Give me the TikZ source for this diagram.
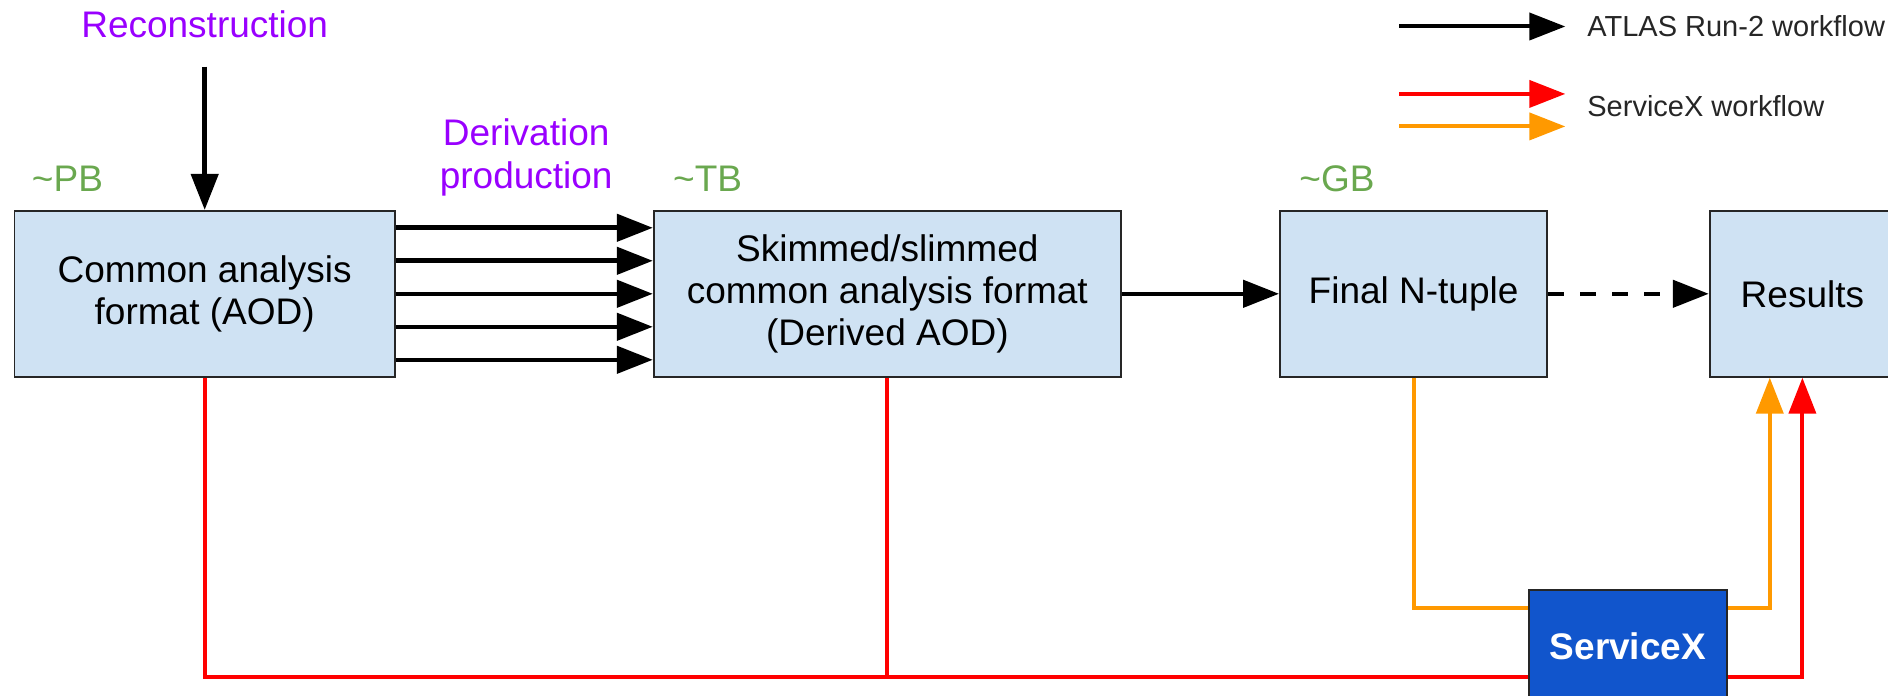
\documentclass[tikz,border=0pt]{standalone}
\usepackage{fontspec}
\setmainfont{Liberation Sans}
\usepackage{tikz}
\usetikzlibrary{arrows.meta,positioning}
\definecolor{boxblue}{HTML}{CFE2F3}
\definecolor{sxblue}{HTML}{1155CC}
\definecolor{steppurple}{HTML}{9900FF}
\definecolor{sizegreen}{HTML}{6AA84F}
\definecolor{sxorange}{HTML}{FF9900}
\tikzset{box/.style={draw=black!85, line width=0.9pt, fill=boxblue, minimum height=83pt,
                     align=center, inner sep=2pt, font=\fontsize{18.5}{21}\selectfont},
flow/.style={line width=2.3pt},
sxflow/.style={line width=2pt},
sizelabel/.style={text=sizegreen, anchor=base west, inner sep=0pt, font=\fontsize{18.5}{21}\selectfont},
steplabel/.style={text=steppurple, align=center, font=\fontsize{18.5}{21.5}\selectfont},
legendtext/.style={anchor=west, inner sep=0pt, text=black!85, font=\fontsize{14.5}{17}\selectfont}
}

\begin{document}
\begin{tikzpicture}[x=0.602pt, y=-0.602pt, >={Triangle[length=18pt,width=13.5pt]}, on grid]
    \clip (0,0) rectangle (1568,578);

    % data formats
    \node[box, minimum width=190.2pt] (aod)     at (170,244)            {Common analysis\\format (AOD)};
    \node[box, minimum width=233.6pt] (daod)    [right=341.3pt of aod]  {Skimmed/slimmed\\common analysis format\\(Derived AOD)};
    \node[box, minimum width=133.6pt] (ntuple)  [right=263.1pt of daod] {Final N-tuple};
    \node[box, minimum width=92.7pt]  (results) [right=194.4pt of ntuple] {Results};
    \node[box, fill=sxblue, text=white, minimum width=99.3pt, minimum height=56.6pt,
          font=\fontsize{18.5}{21}\selectfont\bfseries] (sx) at (1352,537) {ServiceX};

    \node[steplabel] (reco)  at (170,20)  {Reconstruction};
    \node[steplabel] (deriv) at (437,131) {Derivation\\production};
    \node[sizelabel] (pb) at ([xshift=9pt,yshift=9pt]aod.north west)     {\textasciitilde PB};
    \node[sizelabel] (tb) at ([xshift=10pt,yshift=9pt]daod.north west)   {\textasciitilde TB};
    \node[sizelabel] (gb) at ([xshift=10pt,yshift=9pt]ntuple.north west) {\textasciitilde GB};

    % Run-2 workflow
    \draw[flow,->,shorten <=11pt] (reco) -- (aod);
    \foreach \k in {-2,...,2}
        \draw[flow,->] ([yshift=\k*16.5pt]aod.east) -- ([yshift=\k*16.5pt]daod.west);
    \draw[flow,->] (daod) -- (ntuple);
    \draw[flow,->,dash pattern=on 8pt off 8pt] (ntuple) -- (results);

    % ServiceX workflow
    \coordinate (redin)  at ([yshift=-15pt]sx.west);
    \coordinate (redout) at ([yshift=-15pt]sx.east);
    \coordinate (orin)   at ([yshift=19.3pt]sx.west);
    \coordinate (orout)  at ([yshift=19.3pt]sx.east);
    \draw[sxflow,red] (aod.south) |- (redin);
    \draw[sxflow,red] (daod.south) -- (daod.south |- redin);
    \draw[sxflow,red,->] (redout) -| (results.south);
    \draw[sxflow,sxorange] (ntuple.south) |- (orin);
    \draw[sxflow,sxorange,->] (orout) -| ([xshift=-16.3pt]results.south);

    % legend
    \coordinate (runA) at (1162,22);  \coordinate (runB) at (1300,22);
    \coordinate (redA) at (1162,78);  \coordinate (redB) at (1300,78);
    \coordinate (orA)  at (1162,105); \coordinate (orB)  at (1300,105);
    \draw[sxflow,->] (runA) -- (runB);
    \draw[sxflow,red,->] (redA) -- (redB);
    \draw[sxflow,sxorange,->] (orA) -- (orB);
    \node[legendtext] (runtext) at (1318,22) {ATLAS Run-2 workflow};
    \node[legendtext] (sxtext)  at (1318,88) {ServiceX workflow};
\end{tikzpicture}
\end{document}
